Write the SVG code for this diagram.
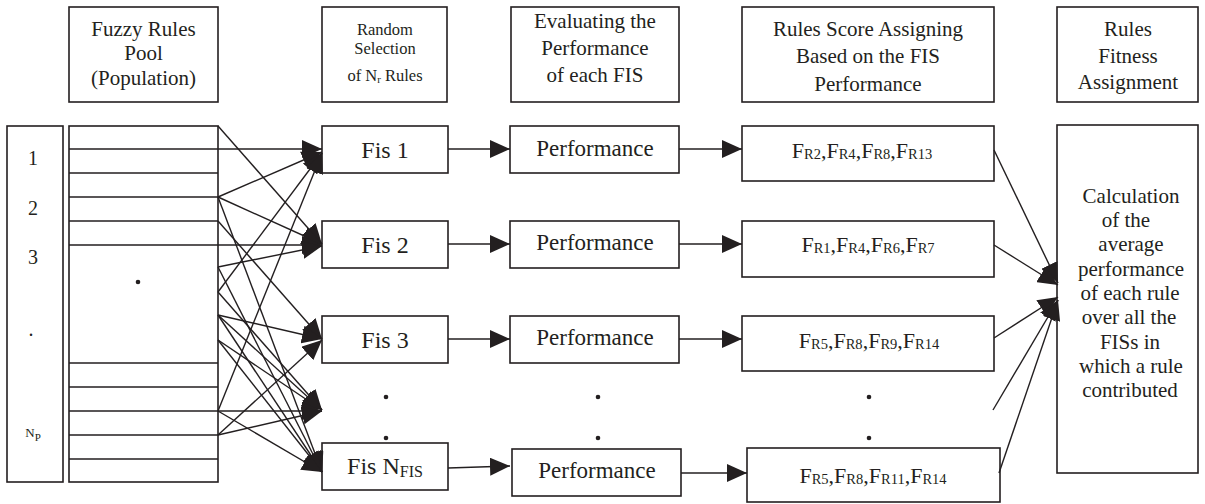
<svg xmlns="http://www.w3.org/2000/svg" width="1205" height="504" viewBox="0 0 1205 504">
<style>
text{font-family:"Liberation Serif","Times New Roman",serif;fill:#231f20}
.box{fill:#fff;stroke:#231f20;stroke-width:1.6}
.hd{font-size:21px;text-anchor:middle}
.hs{font-size:16.5px;text-anchor:middle}
.fis{font-size:24px;text-anchor:middle}
.perf{font-size:23px;text-anchor:middle}
.sc{font-size:22px;text-anchor:middle}
.sub{font-size:14.5px}
.big{font-size:21px;text-anchor:middle}
.num{font-size:20px;text-anchor:middle}
.row{stroke:#231f20;stroke-width:1.6;fill:none}
.c line{stroke:#231f20;stroke-width:1.4;marker-end:url(#ah)}
.c line.p{stroke-width:1.5}
.dot{fill:#231f20}
</style>
<defs>
<marker id="ah" markerUnits="userSpaceOnUse" viewBox="0 0 20 18" markerWidth="20" markerHeight="18" refX="20" refY="9" orient="auto">
<path d="M0,0 L20,9 L0,18 z" fill="#231f20"/>
</marker>
</defs>
<rect width="1205" height="504" fill="#fff"/>

<!-- headers -->
<g id="h-pool">
<rect class="box" x="69" y="7" width="149" height="95"/>
<text class="hd" x="143.5" y="36">Fuzzy Rules</text>
<text class="hd" x="143.5" y="59.5">Pool</text>
<text class="hd" x="143.5" y="84.5">(Population)</text>
</g>
<g id="h-random">
<rect class="box" x="322" y="7" width="125" height="95"/>
<text class="hs" x="385" y="34.5">Random</text>
<text class="hs" x="385" y="54">Selection</text>
<text class="hs" x="385" y="80.5">of N<tspan font-size="11" dy="2">r</tspan><tspan dy="-2"> Rules</tspan></text>
</g>
<g id="h-eval">
<rect class="box" x="511" y="7" width="168" height="95"/>
<text class="hd" x="595" y="28">Evaluating the</text>
<text class="hd" x="595" y="55">Performance</text>
<text class="hd" x="595" y="82">of each FIS</text>
</g>
<g id="h-score">
<rect class="box" x="742" y="7" width="252" height="95"/>
<text class="hd" x="868" y="35.5">Rules Score Assigning</text>
<text class="hd" x="868" y="63">Based on the FIS</text>
<text class="hd" x="868" y="90.5">Performance</text>
</g>
<g id="h-fitness">
<rect class="box" x="1057" y="7" width="141" height="95"/>
<text class="hd" x="1128" y="35.5">Rules</text>
<text class="hd" x="1128" y="63">Fitness</text>
<text class="hd" x="1128" y="88.5">Assignment</text>
</g>

<!-- index column -->
<g id="index">
<rect class="box" x="7" y="126" width="56" height="356"/>
<text class="num" x="33" y="165">1</text>
<text class="num" x="33" y="215">2</text>
<text class="num" x="33" y="264">3</text>
<text class="num" x="31" y="336">.</text>
<text x="33" y="437" font-size="13" text-anchor="middle">N<tspan font-size="11" dy="4">P</tspan></text>
</g>

<!-- pool -->
<g id="pool">
<rect class="box" x="69" y="126" width="149" height="356"/>
<path class="row" d="M69 149H218M69 173H218M69 197H218M69 221H218M69 245H218M69 363H218M69 387H218M69 411H218M69 435H218M69 459H218"/>
<circle class="dot" cx="138" cy="282" r="2.3"/>
</g>

<!-- FIS boxes -->
<g id="fis1"><rect class="box" x="322" y="126" width="126" height="47"/><text class="fis" x="385" y="158">Fis 1</text></g>
<g id="fis2"><rect class="box" x="322" y="221" width="126" height="47"/><text class="fis" x="385" y="253">Fis 2</text></g>
<g id="fis3"><rect class="box" x="322" y="316" width="126" height="47"/><text class="fis" x="385" y="348">Fis 3</text></g>
<g id="fisn"><rect class="box" x="322" y="443" width="126" height="47"/><text class="fis" x="385" y="474">Fis N<tspan font-size="16" dy="3">FIS</tspan></text></g>
<g id="fis-dots"><circle class="dot" cx="386" cy="397" r="2.3"/><circle class="dot" cx="386" cy="438" r="2.3"/></g>

<!-- performance boxes -->
<g id="perf1"><rect class="box" x="510" y="126" width="169" height="47"/><text class="perf" x="595" y="156">Performance</text></g>
<g id="perf2"><rect class="box" x="510" y="221" width="169" height="47"/><text class="perf" x="595" y="250">Performance</text></g>
<g id="perf3"><rect class="box" x="510" y="316" width="169" height="47"/><text class="perf" x="595" y="345">Performance</text></g>
<g id="perfn"><rect class="box" x="512" y="449" width="169" height="47"/><text class="perf" x="597" y="478">Performance</text></g>
<g id="perf-dots"><circle class="dot" cx="598" cy="397" r="2.3"/><circle class="dot" cx="598" cy="438" r="2.3"/></g>

<!-- score boxes -->
<g id="score1"><rect class="box" x="742" y="126" width="252" height="55"/>
<text class="sc" x="862" y="158">F<tspan class="sub" dy="1">R2</tspan><tspan dy="-1">,F</tspan><tspan class="sub" dy="1">R4</tspan><tspan dy="-1">,F</tspan><tspan class="sub" dy="1">R8</tspan><tspan dy="-1">,F</tspan><tspan class="sub" dy="1">R13</tspan></text></g>
<g id="score2"><rect class="box" x="742" y="221" width="252" height="56"/>
<text class="sc" x="868" y="252">F<tspan class="sub" dy="1">R1</tspan><tspan dy="-1">,F</tspan><tspan class="sub" dy="1">R4</tspan><tspan dy="-1">,F</tspan><tspan class="sub" dy="1">R6</tspan><tspan dy="-1">,F</tspan><tspan class="sub" dy="1">R7</tspan></text></g>
<g id="score3"><rect class="box" x="742" y="316" width="252" height="55"/>
<text class="sc" x="869" y="348">F<tspan class="sub" dy="1">R5</tspan><tspan dy="-1">,F</tspan><tspan class="sub" dy="1">R8</tspan><tspan dy="-1">,F</tspan><tspan class="sub" dy="1">R9</tspan><tspan dy="-1">,F</tspan><tspan class="sub" dy="1">R14</tspan></text></g>
<g id="scoren"><rect class="box" x="747" y="448" width="253" height="54"/>
<text class="sc" x="873" y="483">F<tspan class="sub" dy="1">R5</tspan><tspan dy="-1">,F</tspan><tspan class="sub" dy="1">R8</tspan><tspan dy="-1">,F</tspan><tspan class="sub" dy="1">R11</tspan><tspan dy="-1">,F</tspan><tspan class="sub" dy="1">R14</tspan></text></g>
<g id="score-dots"><circle class="dot" cx="869" cy="397" r="2.3"/><circle class="dot" cx="869" cy="438" r="2.3"/></g>

<!-- fitness box -->
<g id="fitness">
<rect class="box" x="1057" y="125" width="141" height="348"/>
<text class="big" x="1131" y="203">Calculation</text>
<text class="big" x="1126" y="227">of the</text>
<text class="big" x="1131" y="251">average</text>
<text class="big" x="1131" y="276">performance</text>
<text class="big" x="1130" y="300">of each rule</text>
<text class="big" x="1129" y="324">over all the</text>
<text class="big" x="1130" y="349">FISs in</text>
<text class="big" x="1131" y="373">which a rule</text>
<text class="big" x="1130" y="397">contributed</text>
</g>

<!-- connectors -->
<g id="connectors" class="c">
<!-- pool to FIS fan -->
<line x1="218" y1="126" x2="322" y2="244"/>
<line x1="218" y1="149" x2="322" y2="149"/>
<line x1="218" y1="197" x2="322" y2="152"/>
<line x1="218" y1="197" x2="322" y2="244"/>
<line x1="218" y1="197" x2="322" y2="472"/>
<line x1="218" y1="221" x2="322" y2="339"/>
<line x1="218" y1="245" x2="322" y2="245"/>
<line x1="218" y1="267" x2="322" y2="246"/>
<line x1="218" y1="267" x2="322" y2="472"/>
<line x1="218" y1="292" x2="322" y2="153"/>
<line x1="218" y1="292" x2="322" y2="410"/>
<line x1="218" y1="315" x2="322" y2="339"/>
<line x1="218" y1="315" x2="322" y2="410"/>
<line x1="218" y1="315" x2="322" y2="472"/>
<line x1="218" y1="340" x2="322" y2="410"/>
<line x1="218" y1="340" x2="322" y2="472"/>
<line x1="218" y1="411" x2="322" y2="153"/>
<line x1="218" y1="411" x2="322" y2="411"/>
<line x1="218" y1="411" x2="322" y2="472"/>
<line x1="218" y1="435" x2="322" y2="340"/>
<line x1="218" y1="435" x2="322" y2="411"/>
<!-- FIS to performance -->
<line class="p" x1="448" y1="149" x2="510" y2="149"/>
<line class="p" x1="448" y1="244" x2="510" y2="244"/>
<line class="p" x1="448" y1="339" x2="510" y2="339"/>
<line class="p" x1="448" y1="468" x2="510" y2="466"/>
<!-- performance to score -->
<line class="p" x1="679" y1="149" x2="742" y2="149"/>
<line class="p" x1="679" y1="244" x2="742" y2="244"/>
<line class="p" x1="679" y1="339" x2="742" y2="339"/>
<line class="p" x1="681" y1="473" x2="747" y2="473"/>
<!-- score to fitness -->
<line x1="994" y1="150" x2="1058" y2="283"/>
<line x1="994" y1="245" x2="1058" y2="285"/>
<line x1="994" y1="338" x2="1058" y2="297"/>
<line x1="993" y1="410" x2="1058" y2="300"/>
<line x1="999" y1="473" x2="1058" y2="300"/>
</g>
</svg>
